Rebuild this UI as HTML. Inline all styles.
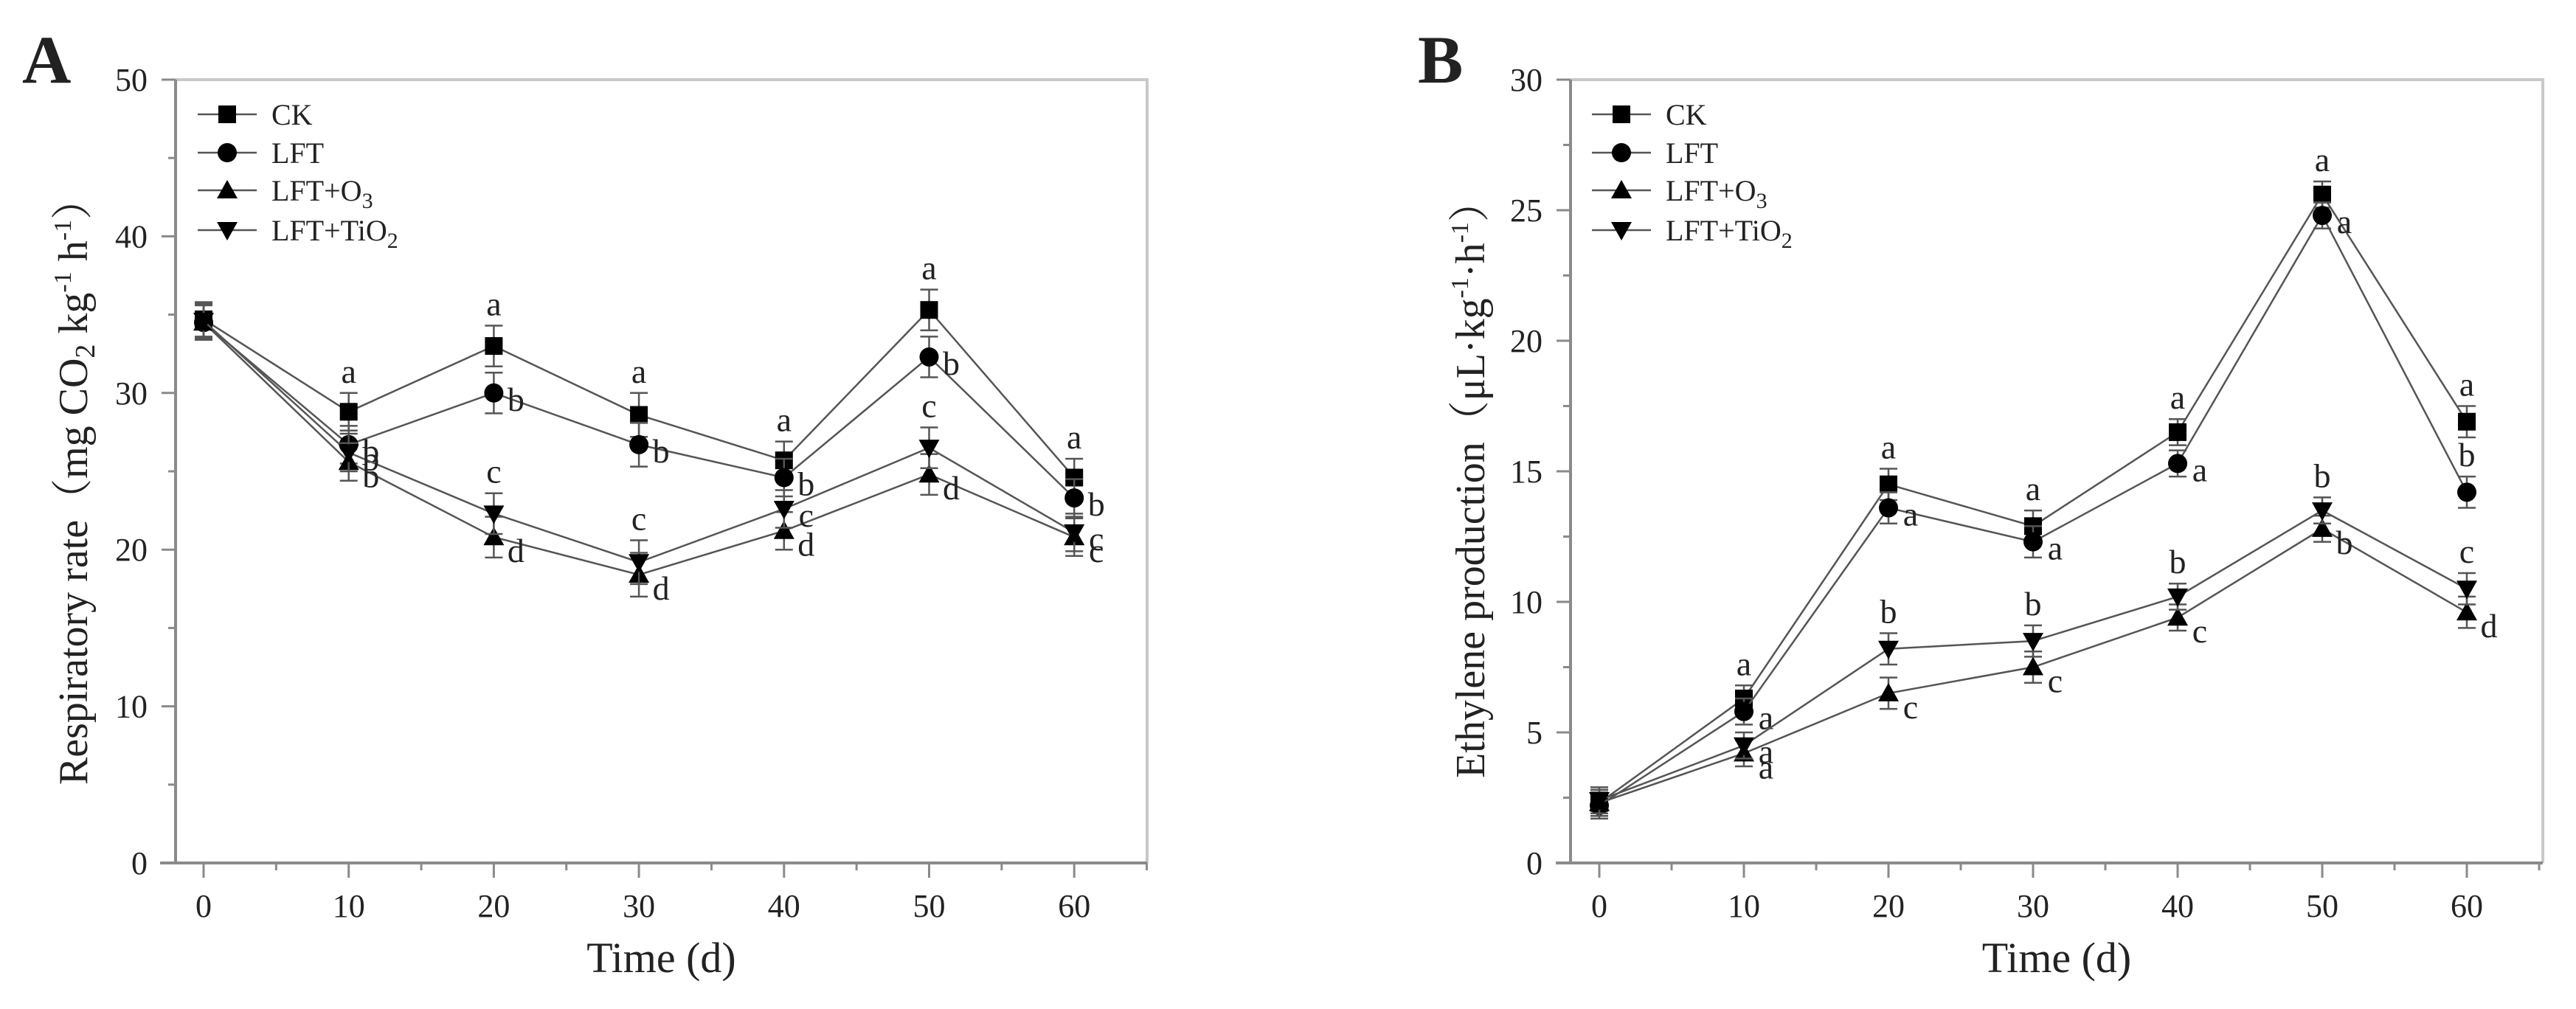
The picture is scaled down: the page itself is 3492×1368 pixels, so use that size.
<!DOCTYPE html>
<html><head><meta charset="utf-8"><style>
html,body{margin:0;padding:0;background:#fff;}
svg{display:block;}
text{font-family:"Liberation Serif","Noto Serif CJK SC",serif;fill:#222;}
</style></head><body>
<svg id="fig" width="3492" height="1368" viewBox="0 0 3492 1368" xmlns="http://www.w3.org/2000/svg">
<rect x="0" y="0" width="3492" height="1368" fill="#fff"/>
<g id="panelA"></g>
<g id="panelB"></g>
</svg>
<script>
const days = [0, 10, 20, 30, 40, 50, 60];
const seriesNames = ["CK", "LFT", "LFT+O3", "LFT+TiO2"];
// Panel A: respiratory rate
const respCK   = [34.7, 28.8, 33.0, 28.6, 25.7, 35.3, 24.6];
const respLFT  = [34.5, 26.7, 30.0, 26.7, 24.6, 32.3, 23.3];
const respO3   = [34.5, 25.6, 20.8, 18.4, 21.2, 24.8, 20.8];
const respTiO2 = [34.6, 26.2, 22.3, 19.2, 22.6, 26.5, 21.1];
const respErr  = [1.1, 1.2, 1.3, 1.4, 1.2, 1.3, 1.2];
const respLetCK   = ["", "a", "a", "a", "a", "a", "a"];
const respLetLFT  = ["", "b", "b", "b", "b", "b", "b"];
const respLetO3   = ["", "b", "d", "d", "d", "d", "c"];
const respLetTiO2 = ["", "b", "c", "c", "c", "c", "c"];
const respTicks = [0, 10, 20, 30, 40, 50];
// Panel B: ethylene production
const ethCK   = [2.3, 6.3, 14.5, 12.9, 16.5, 25.6, 16.9];
const ethLFT  = [2.2, 5.8, 13.6, 12.3, 15.3, 24.8, 14.2];
const ethO3   = [2.3, 4.2, 6.5, 7.5, 9.4, 12.8, 9.6];
const ethTiO2 = [2.4, 4.5, 8.2, 8.5, 10.2, 13.5, 10.5];
const ethErr  = [0.5, 0.5, 0.6, 0.6, 0.5, 0.5, 0.6];
const ethLetCK   = ["", "a", "a", "a", "a", "a", "a"];
const ethLetLFT  = ["", "a", "a", "a", "a", "a", "b"];
const ethLetO3   = ["", "a", "c", "c", "c", "b", "d"];
const ethLetTiO2 = ["", "a", "b", "b", "b", "b", "c"];
const ethTicks = [0, 5, 10, 15, 20, 25, 30];
const xTicks = [0, 10, 20, 30, 40, 50, 60];

const NS = "http://www.w3.org/2000/svg";
function mk(parent, tag, attrs){ const e=document.createElementNS(NS,tag); for(const k in attrs) e.setAttribute(k,attrs[k]); parent.appendChild(e); return e; }

function marker(g, kind, cx, cy){
  let e;
  if(kind===0){ e=mk(g,"rect",{x:cx-12,y:cy-12,width:24,height:24,fill:"#000"}); }
  else if(kind===1){ e=mk(g,"circle",{cx:cx,cy:cy,r:13,fill:"#000"}); }
  else if(kind===2){ e=mk(g,"polygon",{points:`${cx-14},${cy+11} ${cx+14},${cy+11} ${cx},${cy-14}`,fill:"#000"}); }
  else { e=mk(g,"polygon",{points:`${cx-14},${cy-11} ${cx+14},${cy-11} ${cx},${cy+14}`,fill:"#000"}); }
  return e;
}

function drawPanel(cfg){
  const g = document.getElementById(cfg.id);
  const X = v => cfg.x0 + v*cfg.xu;
  const Y = v => cfg.yb - v*(cfg.yb-cfg.yt)/cfg.ymax;
  const ax = "#8a8a8a";
  const fr = mk(g,"path",{d:`M${cfg.axL},${cfg.yt} H${cfg.axR} V${cfg.yb}`,stroke:"#c8c8c8","stroke-width":4,fill:"none"});
  
  
  const ya = mk(g,"line",{x1:cfg.axL,y1:cfg.yt,x2:cfg.axL,y2:cfg.yb,stroke:ax,"stroke-width":4});
  
  
  const xa = mk(g,"line",{x1:cfg.xStart,y1:cfg.yb,x2:cfg.axR,y2:cfg.yb,stroke:ax,"stroke-width":4});
  
  
  const step = cfg.yTicks[1]-cfg.yTicks[0];
  cfg.yTicks.forEach(v=>{
    mk(g,"line",{x1:cfg.axL-19,y1:Y(v),x2:cfg.axL,y2:Y(v),stroke:ax,"stroke-width":3});
    const t=mk(g,"text",{x:cfg.axL-38,y:Y(v)+15,"text-anchor":"end","font-size":44,fill:"#444"});
    t.textContent=v;
    
    
    if(v+step/2<cfg.ymax) mk(g,"line",{x1:cfg.axL-10,y1:Y(v+step/2),x2:cfg.axL,y2:Y(v+step/2),stroke:ax,"stroke-width":3});
  });
  xTicks.forEach(v=>{
    mk(g,"line",{x1:X(v),y1:cfg.yb,x2:X(v),y2:cfg.yb+20,stroke:ax,"stroke-width":3});
    mk(g,"line",{x1:X(v+5),y1:cfg.yb,x2:X(v+5),y2:cfg.yb+10,stroke:ax,"stroke-width":3});
    const t=mk(g,"text",{x:X(v),y:1243,"text-anchor":"middle","font-size":44,fill:"#444"});
    t.textContent=v;
    
    
  });
  const xt=mk(g,"text",{x:(cfg.axL+cfg.axR)/2,y:1318,"text-anchor":"middle","font-size":58});
  xt.textContent="Time (d)";
  
  
  const yt=mk(g,"text",{x:0,y:0,"text-anchor":"middle","font-size":56,transform:`translate(${cfg.ylx},${cfg.ylc}) rotate(-90)`});
  yt.innerHTML=cfg.ylabel;
  
  
  const pl=mk(g,"text",{x:cfg.plx,y:112,"font-size":92,"font-weight":"bold",fill:"#000"});
  pl.textContent=cfg.letter;
  
  
  cfg.series.forEach((s,si)=>{
    const sg=mk(g,"g",{});
    
    
    const pts=days.map((d,i)=>`${X(d)},${Y(s[i])}`).join(" ");
    mk(sg,"polyline",{points:pts,fill:"none",stroke:"#555","stroke-width":2.5});
    days.forEach((d,i)=>{
      const e=cfg.err[i], x=X(d);
      mk(sg,"path",{d:`M${x},${Y(s[i]+e)} V${Y(s[i]-e)} M${x-12},${Y(s[i]+e)} H${x+12} M${x-12},${Y(s[i]-e)} H${x+12}`,stroke:"#555","stroke-width":2.5,fill:"none"});
    });
    days.forEach((d,i)=>{
      const m=marker(sg,si,X(d),Y(s[i]));
      
      
    });
    days.forEach((d,i)=>{
      const L=cfg.letters[si][i]; if(!L) return;
      const top=cfg.pos[si][i]==='t';
      const lx= top? X(d) : X(d)+30;
      const ly= top? Y(s[i]+cfg.err[i])-14 : Y(s[i])+(si===2?34:24);
      const t=mk(sg,"text",{x:lx,y:ly,"text-anchor":"middle","font-size":46});
      t.textContent=L;
      
      
    });
  });
  const lg=mk(g,"g",{});
  
  
  const rows=[155,207,258,312];
  const labels=["CK","LFT",'LFT+O<tspan font-size="30" dy="10">3</tspan>','LFT+TiO<tspan font-size="30" dy="10">2</tspan>'];
  rows.forEach((ry,i)=>{
    const eg=mk(lg,"g",{});
    
    
    mk(eg,"line",{x1:cfg.lgx,y1:ry,x2:cfg.lgx+80,y2:ry,stroke:"#555","stroke-width":2.5});
    marker(eg,i,cfg.lgx+40,ry);
    const t=mk(eg,"text",{x:cfg.lgx+100,y:ry+14,"font-size":40});
    t.innerHTML=labels[i];
  });
}

drawPanel({id:"panelA",x0:276,xu:19.67,yb:1170,yt:108,ymax:50,axL:238,axR:1555,xStart:217,
  yTicks:respTicks,err:respErr,series:[respCK,respLFT,respO3,respTiO2],
  letters:[respLetCK,respLetLFT,respLetO3,respLetTiO2],
  pos:[["t","t","t","t","t","t","t"],["r","r","r","r","r","r","r"],["r","r","r","r","r","r","r"],["r","r","t","t","r","t","r"]],
  ylx:118,ylc:653,plx:30,letter:"A",lgx:268,
  ylabel:'Respiratory rate（mg CO<tspan font-size="38" dy="10">2</tspan><tspan dy="-10"> kg</tspan><tspan font-size="34" dy="-22">-1</tspan><tspan dy="22"> h</tspan><tspan font-size="34" dy="-22">-1</tspan><tspan dy="22">）</tspan>'});
drawPanel({id:"panelB",x0:2168,xu:19.6,yb:1170,yt:108,ymax:30,axL:2129,axR:3447,xStart:2109,
  yTicks:ethTicks,err:ethErr,series:[ethCK,ethLFT,ethO3,ethTiO2],
  letters:[ethLetCK,ethLetLFT,ethLetO3,ethLetTiO2],
  pos:[["t","t","t","t","t","t","t"],["r","r","r","r","r","r","t"],["r","r","r","r","r","r","r"],["r","r","t","t","t","t","t"]],
  ylx:2012,ylc:650,plx:1922,letter:"B",lgx:2158,
  ylabel:'Ethylene production（μL·kg<tspan font-size="34" dy="-22">-1</tspan><tspan dy="22">·h</tspan><tspan font-size="34" dy="-22">-1</tspan><tspan dy="22">）</tspan>'});
</script>
</body></html>
